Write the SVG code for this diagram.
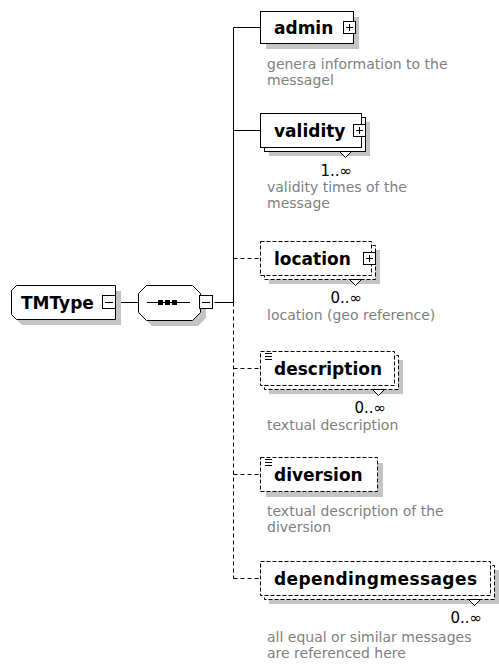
<svg xmlns="http://www.w3.org/2000/svg" xmlns:xlink="http://www.w3.org/1999/xlink" width="499" height="668" viewBox="0 0 499 668">
<style>
.bx{fill:#fff;stroke:#000;stroke-width:1}
.opt{stroke-dasharray:4 2}
.sh{fill:#c4c4c4;stroke:none}
.ln{fill:none;stroke:#000;stroke-width:1}
.dl{stroke-dasharray:4 3}
.lbl{font-family:"DejaVu Sans",Verdana,sans-serif;font-weight:bold;font-size:17px;fill:#000}
.desc{font-family:"DejaVu Sans",Verdana,sans-serif;font-size:14px;fill:#808080}
.mult{font-family:"DejaVu Sans",Verdana,sans-serif;font-size:15px;fill:#000;text-anchor:end}
.notch{fill:#fff;stroke:#000;stroke-width:1}
</style>
<defs>
<g id="plus"><rect x="0.5" y="0.5" width="12" height="12" fill="#fff" stroke="#000"/><path d="M3,6.5H10M6.5,3V10" stroke="#000" fill="none"/></g>
<g id="minus"><rect x="0.5" y="0.5" width="13" height="13" fill="#fff" stroke="#000"/><path d="M3,7.5H11" stroke="#000" fill="none"/></g>
<g id="simple"><path d="M0,0.5H7M0,3.5H7M0,6.5H7" stroke="#000" fill="none"/></g>
</defs>
<g id="connectors">
<path class="ln" d="M115.5,302.5H138.5M214.5,302.5H233.5M233.5,27.5V302.5M233.5,27.5H260.5M233.5,130.5H260.5"/>
<path class="ln dl" d="M233.5,302.5V578.5M233.5,258.5H260.5M233.5,368.5H260.5M233.5,474.5H260.5M233.5,578.5H260.5"/>
</g>
<g id="TMType">
<path class="sh" d="M22,291H121V325H22L17,320V296Z"/>
<path class="bx" d="M16.5,285.5H115.5V319.5H16.5L11.5,314.5V290.5Z"/>
<text class="lbl" x="21" y="308.5">TMType</text>
<use xlink:href="#minus" x="102" y="295"/>
</g>
<g id="sequence">
<path class="sh" d="M152,291H198L206,299V318L198,326H152L144,318V299Z"/>
<path class="bx" d="M146.5,285.5H192.5L200.5,293.5V312.5L192.5,320.5H146.5L138.5,312.5V293.5Z"/>
<path class="ln" d="M147,302.5H190"/>
<rect x="158" y="300" width="5" height="5"/>
<rect x="165" y="300" width="5" height="5"/>
<rect x="172" y="300" width="5" height="5"/>
<use xlink:href="#minus" x="199" y="295"/>
</g>
<g id="admin">
<rect class="sh" x="266" y="17" width="93" height="32"/>
<rect class="bx" x="260.5" y="11.5" width="93" height="32"/>
<text class="lbl" x="274" y="33.5">admin</text>
<use xlink:href="#plus" x="343" y="21"/>
<text class="desc" x="267" y="69">genera information to the</text>
<text class="desc" x="267" y="85">messagel</text>
</g>
<g id="validity">
<rect class="sh" x="269" y="122" width="101" height="34"/>
<rect class="bx" x="264.5" y="117.5" width="101" height="34"/>
<rect class="bx" x="260.5" y="113.5" width="101" height="34"/>
<text class="lbl" x="274" y="136.5">validity</text>
<use xlink:href="#plus" x="353" y="124"/>
<polygon class="notch" points="339.5,151.5 345.5,157.5 351.5,151.5"/>
<text class="mult" x="352" y="176">1..∞</text>
<text class="desc" x="267" y="192">validity times of the</text>
<text class="desc" x="267" y="208">message</text>
</g>
<g id="location">
<rect class="sh" x="269" y="250" width="111" height="34"/>
<rect class="bx opt" x="264.5" y="245.5" width="111" height="34"/>
<rect class="bx opt" x="260.5" y="241.5" width="111" height="34"/>
<text class="lbl" x="274" y="264.5">location</text>
<use xlink:href="#plus" x="363" y="252"/>
<polygon class="notch" points="349.5,279.5 355.5,285.5 361.5,279.5"/>
<text class="mult" x="362" y="303">0..∞</text>
<text class="desc" x="267" y="320">location (geo reference)</text>
</g>
<g id="description">
<rect class="sh" x="269" y="360" width="134" height="34"/>
<rect class="bx opt" x="264.5" y="355.5" width="134" height="34"/>
<rect class="bx opt" x="260.5" y="351.5" width="134" height="34"/>
<use xlink:href="#simple" x="265" y="353"/>
<text class="lbl" x="274" y="374.5">description</text>
<polygon class="notch" points="372.5,389.5 378.5,395.5 384.5,389.5"/>
<text class="mult" x="386" y="413">0..∞</text>
<text class="desc" x="267" y="430">textual description</text>
</g>
<g id="diversion">
<rect class="sh" x="266" y="463" width="117" height="34"/>
<rect class="bx opt" x="260.5" y="457.5" width="117" height="34"/>
<use xlink:href="#simple" x="265" y="459"/>
<text class="lbl" x="274" y="480.5">diversion</text>
<text class="desc" x="267" y="516">textual description of the</text>
<text class="desc" x="267" y="532">diversion</text>
</g>
<g id="dependingmessages">
<rect class="sh" x="269" y="570" width="230" height="34"/>
<rect class="bx opt" x="264.5" y="565.5" width="230" height="34"/>
<rect class="bx opt" x="260.5" y="561.5" width="230" height="34"/>
<text class="lbl" x="274" y="584.5" textLength="203" lengthAdjust="spacing">dependingmessages</text>
<polygon class="notch" points="468.5,599.5 474.5,605.5 480.5,599.5"/>
<text class="mult" x="482" y="623">0..∞</text>
<text class="desc" x="267" y="642">all equal or similar messages</text>
<text class="desc" x="267" y="658">are referenced here</text>
</g>
</svg>
